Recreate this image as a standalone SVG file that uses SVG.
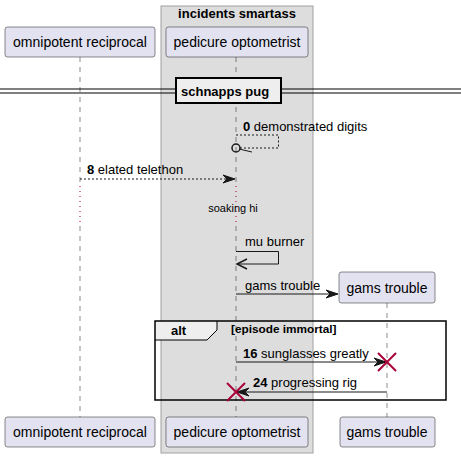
<svg xmlns="http://www.w3.org/2000/svg" width="461" height="458" viewBox="0 0 461 458">
<style>
.t{font-family:"Liberation Sans",Arial,sans-serif;fill:#000}
.p{font-size:14px}
.m{font-size:13px}
.b{font-weight:bold}
.part{fill:#E2E2F0;stroke:#181818;stroke-width:0.5}
.life{stroke:#181818;stroke-width:0.5;stroke-dasharray:5,5;fill:none}
.delay{stroke:#A80036;stroke-width:1;stroke-dasharray:1,4;fill:none}
.msg{stroke:#181818;stroke-width:1;fill:none}
.dash{stroke-dasharray:2,2}
.head{fill:#181818;stroke:#181818;stroke-width:1}
.x{stroke:#A80036;stroke-width:2}
</style>
<rect width="461" height="458" fill="#FFFFFF"/>
<g id="box-incidents-smartass">
<rect x="161" y="6" width="152" height="447" fill="#DDDDDD" stroke="#A0A0A0" stroke-width="1"/>
<text class="t m b" x="237" y="18" text-anchor="middle">incidents smartass</text>
</g>
<g id="lifelines">
<line class="life" x1="80" y1="57" x2="80" y2="186"/>
<line class="delay" x1="80" y1="186" x2="80" y2="226"/>
<line class="life" x1="80" y1="226" x2="80" y2="417"/>
<line class="life" x1="236" y1="57" x2="236" y2="186"/>
<line class="delay" x1="236" y1="186" x2="236" y2="226"/>
<line class="life" x1="236" y1="226" x2="236" y2="417"/>
<line class="life" x1="387" y1="303" x2="387" y2="417"/>
</g>
<g id="divider-schnapps-pug">
<line x1="0" y1="89" x2="461" y2="89" stroke="#000" stroke-width="1"/>
<line x1="0" y1="93" x2="461" y2="93" stroke="#000" stroke-width="1"/>
<rect x="176" y="78" width="105" height="25" fill="#EEEEEE" stroke="#000" stroke-width="2"/>
<text class="t m b" x="181" y="96">schnapps pug</text>
</g>
<g id="p-omnipotent-reciprocal">
<rect class="part" x="5" y="27" width="150" height="30" rx="2.5"/>
<text class="t p" x="80" y="47" text-anchor="middle">omnipotent reciprocal</text>
<rect class="part" x="5" y="417" width="150" height="30" rx="2.5"/>
<text class="t p" x="80" y="437" text-anchor="middle">omnipotent reciprocal</text>
</g>
<g id="p-pedicure-optometrist">
<rect class="part" x="166" y="27" width="142" height="30" rx="2.5"/>
<text class="t p" x="237" y="47" text-anchor="middle">pedicure optometrist</text>
<rect class="part" x="166" y="417" width="142" height="30" rx="2.5"/>
<text class="t p" x="237" y="437" text-anchor="middle">pedicure optometrist</text>
</g>
<g id="p-gams-trouble">
<rect class="part" x="339" y="272" width="96" height="31" rx="2.5"/>
<text class="t p" x="387" y="293" text-anchor="middle">gams trouble</text>
<rect class="part" x="340" y="417" width="95" height="30" rx="2.5"/>
<text class="t p" x="387" y="437" text-anchor="middle">gams trouble</text>
</g>
<g id="frame-alt">
<path d="M155,321 L217,321 L217,330 L207,340 L155,340 Z" fill="#EEEEEE" stroke="none"/>
<path d="M155,340 L207,340 L217,330 L217,321" fill="none" stroke="#000" stroke-width="1"/>
<rect x="155" y="321" width="291" height="79" fill="none" stroke="#000" stroke-width="1.5"/>
<text class="t m b" x="171" y="335">alt</text>
<text class="t b" x="231" y="333" font-size="11.8">[episode immortal]</text>
</g>
<g id="connectors">
<g id="m0">
<polyline class="msg dash" points="236,135 278.5,135 278.5,148 240,148"/>
<circle cx="236" cy="148" r="4" fill="none" stroke="#181818" stroke-width="1.5"/>
<line x1="239" y1="149" x2="252" y2="152" stroke="#181818" stroke-width="1"/>
<text class="t m" x="243" y="131"><tspan class="b">0</tspan> demonstrated digits</text>
</g>
<g id="m8">
<line class="msg dash" x1="80" y1="179" x2="234" y2="179"/>
<polygon class="head" points="235,179 223,175 227,179 223,183"/>
<text class="t m" x="87" y="174"><tspan class="b">8</tspan> elated telethon</text>
</g>
<text class="t" x="233" y="212" font-size="11" text-anchor="middle">soaking hi</text>
<g id="m-mu-burner">
<polyline class="msg" points="236,251.5 278.5,251.5 278.5,264 237,264"/>
<polyline points="247,259 237,264 247,269" fill="none" stroke="#181818" stroke-width="1.5"/>
<text class="t m" x="245" y="246">mu burner</text>
</g>
<g id="m-gams-trouble">
<line class="msg" x1="236" y1="294" x2="337" y2="294"/>
<polygon class="head" points="338,294 326,290 330,294 326,298"/>
<text class="t m" x="245" y="290">gams trouble</text>
</g>
<g id="m16">
<line class="msg" x1="236" y1="362" x2="385" y2="362"/>
<polygon class="head" points="386,362 374,358 378,362 374,366"/>
<line class="x" x1="378" y1="353" x2="396" y2="371"/>
<line class="x" x1="396" y1="353" x2="378" y2="371"/>
<text class="t m" x="243" y="358"><tspan class="b">16</tspan> sunglasses greatly</text>
</g>
<g id="m24">
<line class="msg" x1="387" y1="392" x2="238" y2="392"/>
<polygon class="head" points="237,392 249,388 245,392 249,396"/>
<line class="x" x1="227" y1="383" x2="245" y2="401"/>
<line class="x" x1="245" y1="383" x2="227" y2="401"/>
<text class="t m" x="253" y="387"><tspan class="b">24</tspan> progressing rig</text>
</g>
</g>
</svg>
